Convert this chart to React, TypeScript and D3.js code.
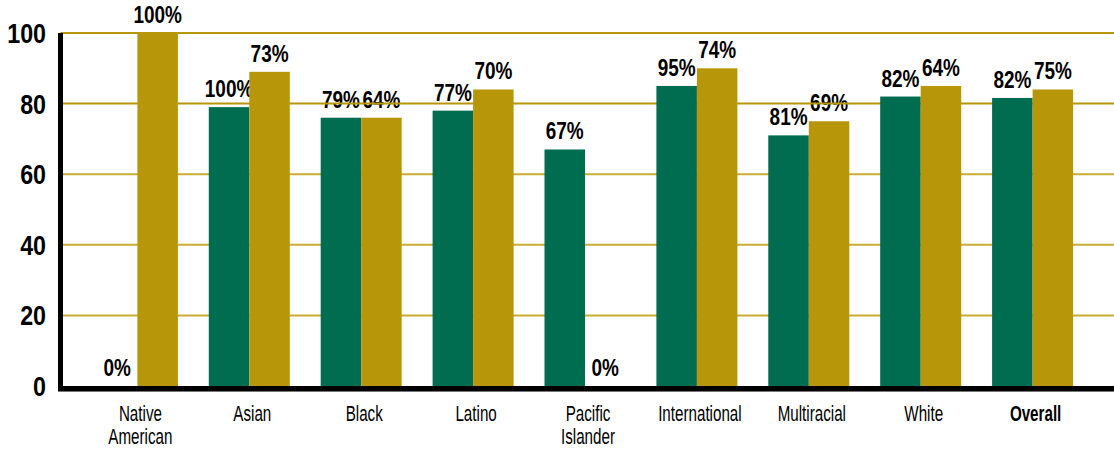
import React from "react";
import * as d3 from "d3";

const categories = ["Native American", "Asian", "Black", "Latino", "Pacific Islander", "International", "Multiracial", "White", "Overall"];
const categoryLines = [["Native", "American"], ["Asian"], ["Black"], ["Latino"], ["Pacific", "Islander"], ["International"], ["Multiracial"], ["White"], ["Overall"]];
const greenValues = [0, 79, 76, 78, 67, 85, 71, 82, 81.6];
const goldValues = [100, 89, 76, 84, 0, 90, 75, 85, 84];
const greenLabels = ["0%", "100%", "79%", "77%", "67%", "95%", "81%", "82%", "82%"];
const goldLabels = ["100%", "73%", "64%", "70%", "0%", "74%", "69%", "64%", "75%"];
const yTicks = [0, 20, 40, 60, 80, 100];

const GREEN = "#006c50";
const GOLD = "#b8960a";
const GRID = "#c9ad35";
const FONT = "'Liberation Sans', Arial, sans-serif";

export default function App() {
  const W = 1114, H = 451;
  const x = d3.scaleBand<string>().domain(categories).range([66, 1104]).paddingInner(0.276).paddingOuter(0.276);
  const y = d3.scaleLinear().domain([0, 100]).range([386, 33]);
  const bw = x.bandwidth() / 2;
  const axisX = 60.5;

  const barLabel = (key: string, cx: number, cy: number, s: string) => (
    <text key={key} transform={`translate(${cx},${cy}) scale(0.79,1)`}>{s}</text>
  );

  return (
    <svg width={W} height={H} style={{ position: "absolute", left: 0, top: 0, background: "#fff" }}>
      {/* value labels (drawn beneath grid and bars) */}
      <g fontFamily={FONT} fontWeight="bold" fontSize={24} fill="#000" textAnchor="middle">
        {categories.map((c, i) => (
          <g key={c}>
            {barLabel("g" + i, (x(c) as number) + bw / 2, y(greenValues[i]) - 10, greenLabels[i])}
            {barLabel("o" + i, (x(c) as number) + bw * 1.5, y(goldValues[i]) - 10, goldLabels[i])}
          </g>
        ))}
      </g>
      {/* gridlines */}
      <g>
        {yTicks.filter((t) => t > 0).map((t) => (
          <line key={t} x1={axisX} x2={W} y1={y(t)} y2={y(t)} stroke={t === 100 || t === 80 ? GOLD : GRID} strokeWidth={2} />
        ))}
      </g>
      {/* bars */}
      <g>
        {categories.map((c, i) => (
          <g key={c}>
            <rect x={x(c) as number} y={y(greenValues[i])} width={bw} height={y(0) - y(greenValues[i])} fill={GREEN} />
            <rect x={(x(c) as number) + bw} y={y(goldValues[i])} width={bw} height={y(0) - y(goldValues[i])} fill={GOLD} />
          </g>
        ))}
      </g>
      {/* axes */}
      <line x1={axisX} x2={axisX} y1={y(100)} y2={y(0) + 5} stroke="#000" strokeWidth={5} />
      <line x1={58} x2={W} y1={y(0) + 2.5} y2={y(0) + 2.5} stroke="#000" strokeWidth={5} />
      <line x1={58} x2={W} y1={y(0) + 5.5} y2={y(0) + 5.5} stroke="#777" strokeWidth={1} />
      {/* y tick labels */}
      <g fontFamily={FONT} fontWeight="bold" fontSize={28} fill="#000" textAnchor="end">
        {yTicks.map((t) => (
          <text key={t} transform={`translate(46,${y(t) + 10}) scale(0.83,1)`}>{t}</text>
        ))}
      </g>
      {/* x category labels */}
      <g fontFamily={FONT} fontSize={22} fill="#000" textAnchor="middle">
        {categories.map((c, i) => {
          const cx = (x(c) as number) + x.bandwidth() / 2 + 3;
          return categoryLines[i].map((line, j) => (
            <text key={c + j} transform={`translate(${cx},${421 + j * 23}) scale(0.69,1)`} fontWeight={c === "Overall" ? "bold" : "normal"}>{line}</text>
          ));
        })}
      </g>
    </svg>
  );
}
